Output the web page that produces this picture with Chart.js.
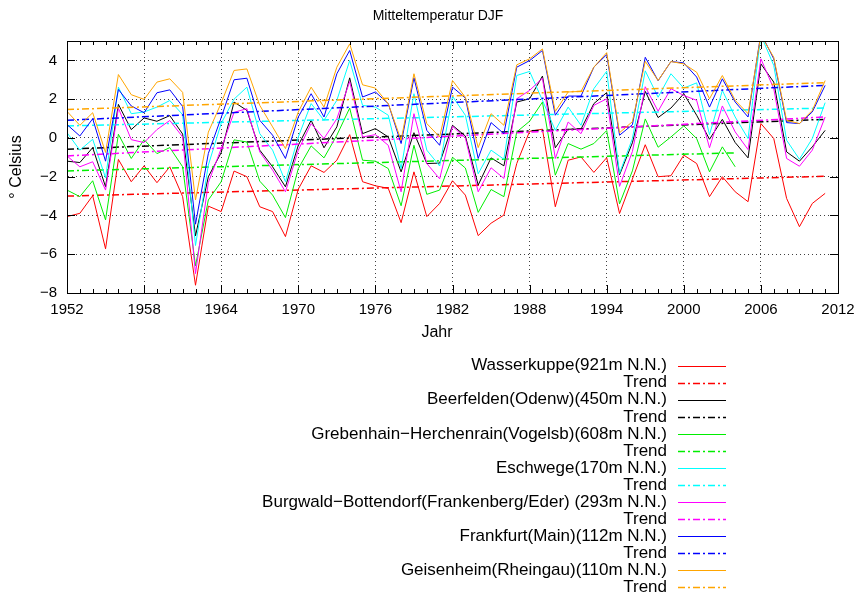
<!DOCTYPE html>
<html><head><meta charset="utf-8">
<script src="https://cdn.jsdelivr.net/npm/chart.js@4.4.1/dist/chart.umd.min.js"></script>
<style>html,body{margin:0;padding:0;background:#fff}canvas{display:block}</style>
</head><body>
<canvas id="c" width="856" height="596"></canvas>
<script>
const years = [1952,1953,1954,1955,1956,1957,1958,1959,1960,1961,1962,1963,1964,1965,1966,1967,1968,1969,1970,1971,1972,1973,1974,1975,1976,1977,1978,1979,1980,1981,1982,1983,1984,1985,1986,1987,1988,1989,1990,1991,1992,1993,1994,1995,1996,1997,1998,1999,2000,2001,2002,2003,2004,2005,2006,2007,2008,2009,2010,2011];

const wasserkuppe = [-4.06,-3.89,-2.98,-5.72,-1.11,-2.26,-1.44,-2.31,-1.49,-3.03,-7.6,-3.52,-3.8,-1.71,-2.0,-3.55,-3.8,-5.09,-2.64,-1.44,-1.78,-1.15,0.17,-2.26,-2.47,-2.6,-4.37,-1.75,-4.06,-3.38,-2.21,-2.95,-5.04,-4.4,-3.98,-1.32,0.34,0.45,-3.55,-1.15,-0.98,-1.78,-1.02,-3.9,-2.12,-0.35,-2.0,-1.95,-0.89,-1.32,-3.03,-2.0,-2.78,-3.29,0.74,-0.03,-3.12,-4.58,-3.38,-2.86];
const beerfelden = [-1.2,-1.27,-0.5,-2.52,1.73,0.43,1.03,0.86,1.15,0.2,-5.05,-2.0,-0.76,1.85,1.42,-0.63,-1.49,-2.52,-0.38,0.91,-0.51,0.57,3.1,0.22,0.48,0.05,-1.75,0.27,-1.32,-1.3,0.65,0.1,-2.43,-1.03,-1.44,1.85,2.02,3.19,-0.51,0.45,0.45,1.77,2.34,-1.9,-0.25,2.4,1.05,1.54,2.28,1.17,-0.07,0.96,-0.24,-1.03,3.82,2.88,-0.72,-1.2,-0.46,0.39];
const grebenhain = [-2.69,-3.03,-2.21,-4.23,0.19,-1.06,-0.09,-0.81,-0.5,-1.49,-6.6,-3.2,-2.26,-0.1,-0.21,-2.23,-2.95,-4.11,-1.58,-0.41,-1.03,0.14,1.54,-1.15,-1.2,-1.58,-3.5,-0.38,-2.91,-2.69,-1.0,-1.55,-3.84,-2.66,-3.03,0.31,0.86,1.85,-1.92,-0.29,-0.58,-0.29,0.38,-3.4,-1.7,0.98,-0.48,0.05,0.62,-0.03,-1.75,-0.46,-1.49,null,null,null,null,null,null,null];
const eschwege = [0.27,-0.63,-0.07,-2.06,2.62,1.25,1.34,1.59,1.93,1.2,-5.55,-1.4,0.75,2.0,2.62,0.22,-0.63,-2.26,0.05,1.77,0.91,1.94,3.99,1.68,1.59,1.17,-1.58,2.28,-0.63,-1.45,2.15,1.17,-1.85,-0.63,-1.1,3.22,3.43,1.94,0.39,1.59,0.65,2.54,3.44,-1.83,-0.03,3.46,2.1,3.31,2.57,2.84,0.17,2.45,1.08,-0.03,5.3,3.74,-0.12,-1.1,-0.03,1.82];
const burgwald = [-0.93,-1.49,-1.23,-2.69,1.54,-0.09,-0.24,0.43,0.9,0.05,-7.0,-2.3,-0.55,1.32,1.51,-0.72,-1.66,-2.78,-0.63,0.74,-0.03,0.99,2.91,0.05,0.17,-0.38,-2.78,1.25,-1.32,-2.11,0.6,0.0,-2.78,-1.54,-2.09,2.02,2.45,3.08,-1.06,0.82,0.22,1.68,2.02,-2.5,-0.7,2.64,1.38,2.54,2.19,1.94,-0.51,1.65,0.31,-0.6,4.08,2.54,-1.06,-1.46,-0.63,1.08];
const frankfurt = [0.69,0.1,0.99,-1.2,2.5,1.65,1.3,2.33,2.48,1.62,-4.45,-0.8,1.05,3.0,3.08,0.91,0.14,-1.06,1.08,2.28,1.08,3.31,4.51,2.11,2.37,1.77,-0.29,3.1,0.39,-0.38,2.62,2.06,-1.06,0.79,0.22,3.65,3.99,4.51,1.17,2.16,2.16,3.65,4.3,0.14,0.68,4.16,2.95,3.94,3.87,3.14,1.59,3.05,1.85,1.08,5.4,4.08,0.79,0.74,1.34,2.71];
const geisenheim = [1.37,0.65,1.3,-0.75,3.27,2.23,1.99,2.88,3.05,2.35,-3.2,0.3,1.8,3.48,3.56,1.68,0.57,-0.55,1.34,2.62,1.59,3.65,4.85,2.74,2.57,1.77,-0.12,3.31,0.74,0.05,2.96,2.1,-0.5,1.25,0.65,3.77,4.08,4.59,1.37,2.37,2.4,3.65,4.4,0.27,0.84,3.95,2.96,3.94,3.82,3.39,2.02,3.22,1.94,1.25,5.3,4.16,0.91,0.74,1.42,2.96];

// trend lines: values at first and last year
const trendYears = [1952, 2011];
const trendYearsGrebenhain = [1952, 2004];
const trendWasserkuppe = [-3.0, -1.98];
const trendBeerfelden = [-0.58, 0.96];
const trendGrebenhain = [-1.70, -0.77];
const trendEschwege = [0.62, 1.54];
const trendBurgwald = [-0.93, 1.08];
const trendFrankfurt = [0.91, 2.71];
const trendGeisenheim = [1.46, 2.85];

const chartTitle = 'Mitteltemperatur DJF';
const xTitle = 'Jahr';
const yTitle = '\u00B0 Celsius';
const stationLabels = ["Wasserkuppe(921m N.N.)","Beerfelden(Odenw)(450m N.N.)","Grebenhain\u2212Herchenrain(Vogelsb)(608m N.N.)","Eschwege(170m N.N.)","Burgwald\u2212Bottendorf(Frankenberg/Eder) (293m N.N.)","Frankfurt(Main)(112m N.N.)","Geisenheim(Rheingau)(110m N.N.)"];
const trendLabel = "Trend";
const xTicks = [1952,1958,1964,1970,1976,1982,1988,1994,2000,2006,2012];
const yTicks = [-8,-6,-4,-2,0,2,4];

const colors = ['#ff0000','#000000','#00ee00','#00ffff','#ff00ff','#0000ff','#ffa500'];
const series = [wasserkuppe, beerfelden, grebenhain, eschwege, burgwald, frankfurt, geisenheim];
const trends = [trendWasserkuppe, trendBeerfelden, trendGrebenhain, trendEschwege, trendBurgwald, trendFrankfurt, trendGeisenheim];
const trendX = [trendYears, trendYears, trendYearsGrebenhain, trendYears, trendYears, trendYears, trendYears];

const FONT = "'Liberation Sans', Arial, Helvetica, sans-serif";
const DASH = [7,3,2,3];

const datasets = [];
series.forEach((s, i) => {
  datasets.push({
    label: stationLabels[i],
    data: years.map((y, k) => ({x: y, y: s[k]})),
    borderColor: colors[i], borderWidth: 1, pointRadius: 0, tension: 0, fill: false,
    spanGaps: false
  });
  datasets.push({
    label: trendLabel,
    data: trendX[i].map((y, k) => ({x: y, y: trends[i][k]})),
    borderColor: colors[i], borderWidth: 1.5, borderDash: DASH, pointRadius: 0, tension: 0, fill: false
  });
});
datasets.forEach((d, i) => { d.order = datasets.length - i; });

const frameTicks = {
  id: 'frameTicks',
  afterDraw(chart) {
    const {ctx, chartArea: a, scales: {x, y}} = chart;
    ctx.save();
    ctx.strokeStyle = '#000'; ctx.lineWidth = 1;
    ctx.beginPath();
    for (let yr = 1952; yr <= 2012; yr++) {
      const px = Math.round(x.getPixelForValue(yr)) + 0.5;
      const len = xTicks.includes(yr) ? 8 : 4;
      ctx.moveTo(px, a.bottom); ctx.lineTo(px, a.bottom - len);
      ctx.moveTo(px, a.top); ctx.lineTo(px, a.top + len);
    }
    yTicks.forEach(v => {
      const py = Math.round(y.getPixelForValue(v)) + 0.5;
      ctx.moveTo(a.left, py); ctx.lineTo(a.left + 8, py);
      ctx.moveTo(a.right, py); ctx.lineTo(a.right - 8, py);
    });
    ctx.stroke();
    ctx.strokeRect(Math.round(a.left) + 0.5, Math.round(a.top) + 0.5, Math.round(a.right - a.left), Math.round(a.bottom - a.top));
    // chart title and x-axis title (gnuplot centres them on the canvas)
    ctx.fillStyle = '#000';
    ctx.textAlign = 'center'; ctx.textBaseline = 'middle';
    ctx.font = "14px " + FONT;
    ctx.fillText(chartTitle, 438, 16);
    ctx.font = "16px " + FONT;
    ctx.fillText(xTitle, 437, 333);
    ctx.restore();
  }
};

const legendPlugin = {
  id: 'sideLegend',
  afterDraw(chart) {
    const {ctx} = chart;
    ctx.save();
    ctx.font = "17px " + FONT;
    ctx.textAlign = 'right'; ctx.textBaseline = 'middle';
    chart.data.datasets.forEach((d, i) => {
      const cy = 365.7 + i * 17.05;
      ctx.fillStyle = '#000';
      ctx.fillText(d.label, 667, cy);
      ctx.beginPath();
      ctx.strokeStyle = d.borderColor;
      ctx.lineWidth = d.borderWidth;
      ctx.setLineDash(d.borderDash || []);
      ctx.moveTo(678, Math.round(cy) + 0.5); ctx.lineTo(726, Math.round(cy) + 0.5);
      ctx.stroke();
    });
    ctx.restore();
  }
};

const fmt = v => v < 0 ? '\u2212' + Math.abs(v) : String(v);

new Chart(document.getElementById('c'), {
  type: 'line',
  data: { datasets },
  plugins: [frameTicks, legendPlugin],
  options: {
    responsive: false, animation: false,
    layout: { padding: { left: 0, right: 18, top: 41, bottom: 243 } },
    plugins: {
      legend: { display: false }, tooltip: { enabled: false }, title: { display: false }
    },
    scales: {
      x: {
        type: 'linear', min: 1952, max: 2012,
        afterBuildTicks: s => { s.ticks = xTicks.map(v => ({value: v})); },
        afterFit: s => { s.height = 60; s.paddingLeft = 0; s.paddingRight = 0; },
        ticks: { color: '#000', font: { family: FONT, size: 15 }, padding: 8, maxRotation: 0, autoSkip: false, callback: v => String(v) },
        grid: { color: 'rgba(0,0,0,0.75)', lineWidth: 1, drawTicks: false },
        border: { display: true, color: '#000', dash: [1, 3] },
        title: { display: false }
      },
      y: {
        type: 'linear', min: -8, max: 5,
        afterBuildTicks: s => { s.ticks = yTicks.map(v => ({value: v})); },
        afterFit: s => { s.width = 67; s.paddingTop = 0; s.paddingBottom = 0; },
        ticks: { color: '#000', font: { family: FONT, size: 15 }, padding: 10, callback: v => fmt(v) },
        grid: { color: 'rgba(0,0,0,0.75)', lineWidth: 1, drawTicks: false },
        border: { display: true, color: '#000', dash: [1, 3] },
        title: { display: true, text: yTitle, color: '#000', font: { family: FONT, size: 16 }, padding: { top: 7, bottom: 0 } }
      }
    }
  }
});
</script>
</body></html>
